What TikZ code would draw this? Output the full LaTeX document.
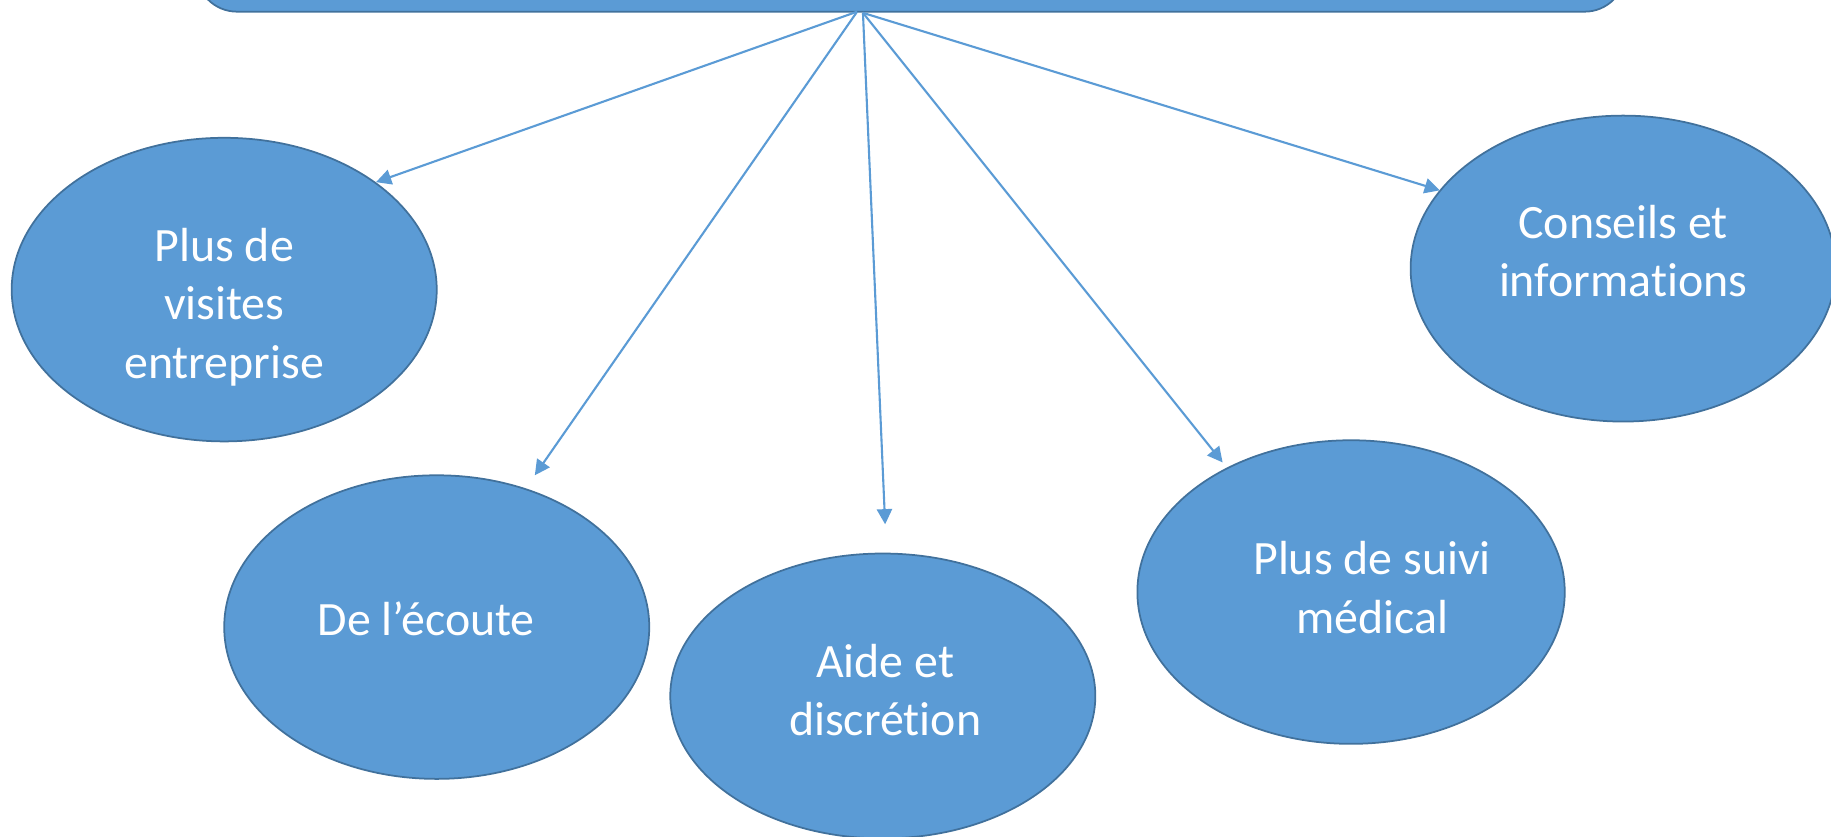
\documentclass[tikz,border=0pt]{standalone}
\usepackage{fontspec}
\setmainfont[Ligatures={NoCommon,NoRequired,NoContextual}]{Carlito}
\usetikzlibrary{shapes.geometric,arrows.meta}
\definecolor{ofill}{HTML}{5B9BD5}
\definecolor{oborder}{HTML}{41719C}
\tikzset{
  bubble/.style={ellipse,draw=oborder,fill=ofill,line width=1.5pt,inner sep=0pt},
  lbl/.style={text=white,align=center,font=\fontsize{41}{50}\selectfont,inner sep=0pt},
  conn/.style={draw=ofill,line width=1.8pt,-{Triangle[length=13pt,width=13pt]}}
}
\begin{document}
\begin{tikzpicture}[x=1pt,y=-1pt]
\useasboundingbox (0,0) rectangle (1568,716);
\node[draw=oborder,fill=ofill,line width=1.5pt,rounded corners=35pt,minimum width=1224pt,minimum height=200pt,inner sep=0pt] (top) at (780,-90) {};
\node[bubble,minimum width=364pt,minimum height=260pt] (e1) at (192,248) {};
\node[bubble,minimum width=364pt,minimum height=260pt] (e2) at (374,537) {};
\node[bubble,minimum width=364pt,minimum height=244pt] (e3) at (756,596) {};
\node[bubble,minimum width=366pt,minimum height=260pt] (e4) at (1157,507) {};
\node[bubble,minimum width=364pt,minimum height=262pt] (e5) at (1390,230) {};
\node[lbl] (l1) at (192,263) {Plus de\\visites\\entreprise};
\node[lbl] (l2) at (365,530) {De l’écoute};
\node[lbl] (l3) at (758,591) {Aide et\\discrétion};
\node[lbl] (l4) at (1175,503) {Plus de suivi\\médical};
\node[lbl] (l5) at (1390,215) {Conseils et\\informations};
\coordinate (srcA) at (734,10);
\coordinate (srcB) at (739,11);
\coordinate (t1) at (322,156);
\coordinate (t2) at (458,407);
\coordinate (t3) at (758,449);
\coordinate (t4) at (1047,396);
\coordinate (t5) at (1233,163);
\draw[conn] (srcA) -- (t1);
\draw[conn] (srcA) -- (t2);
\draw[conn] (srcB) -- (t3);
\draw[conn] (srcB) -- (t4);
\draw[conn] (srcB) -- (t5);
\end{tikzpicture}
\end{document}
